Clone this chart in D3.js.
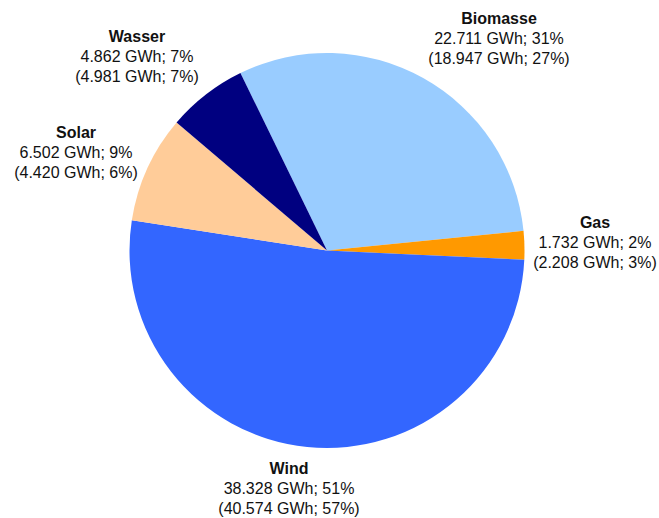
<!DOCTYPE html>
<html>
<head>
<meta charset="utf-8">
<script src="https://cdn.jsdelivr.net/npm/d3@7"></script>
<style>
  body { margin: 0; background: #fff; }
  svg { display: block; font-family: "Liberation Sans", Arial, sans-serif; }
</style>
</head>
<body>
<svg id="chart" width="659" height="518"></svg>
<script>
// data, in drawing order (clockwise from Biomasse)
const categories = ["Biomasse", "Gas", "Wind", "Solar", "Wasser"];
const gwh = [22.711, 1.732, 38.328, 6.502, 4.862];
const pct = [31, 2, 51, 9, 7];
const gwhPrev = [18.947, 2.208, 40.574, 4.420, 4.981];
const pctPrev = [27, 3, 57, 6, 7];
const colors = ["#99CCFF", "#FF9900", "#3366FF", "#FFCC99", "#000080"];

// where each label block sits (centre x, first baseline y)
const labelPos = {
  Biomasse: [499, 24],
  Gas: [595, 228],
  Wind: [289, 474],
  Solar: [76, 138],
  Wasser: [137, 42]
};

const svg = d3.select("#chart");
const cx = 327, cy = 250.5, radius = 197.5;

const fmt = v => d3.format(",.3f")(v).replace(",", "") .replace(".", ".");

const rows = categories.map((c, i) => ({ name: c, value: gwh[i], i: i }));

const start = -26 * Math.PI / 180;
const pie = d3.pie()
  .sort(null)
  .value(d => d.value)
  .startAngle(start)
  .endAngle(start + 2 * Math.PI);

const arc = d3.arc().innerRadius(0).outerRadius(radius);

const g = svg.append("g").attr("transform", `translate(${cx},${cy})`);

g.selectAll("path")
  .data(pie(rows))
  .enter().append("path")
    .attr("d", arc)
    .attr("fill", d => colors[d.data.i]);

const labels = svg.append("g")
  .selectAll("text")
  .data(rows)
  .enter().append("text")
    .attr("text-anchor", "middle")
    .attr("font-size", "16px")
    .attr("fill", "#111")
    .attr("x", d => labelPos[d.name][0])
    .attr("y", d => labelPos[d.name][1]);

labels.append("tspan")
  .attr("font-weight", "bold")
  .text(d => d.name);

labels.append("tspan")
  .attr("x", d => labelPos[d.name][0])
  .attr("dy", 20)
  .text(d => `${gwh[d.i].toFixed(3)} GWh; ${pct[d.i]}%`);

labels.append("tspan")
  .attr("x", d => labelPos[d.name][0])
  .attr("dy", 20)
  .text(d => `(${gwhPrev[d.i].toFixed(3)} GWh; ${pctPrev[d.i]}%)`);
</script>
</body>
</html>
